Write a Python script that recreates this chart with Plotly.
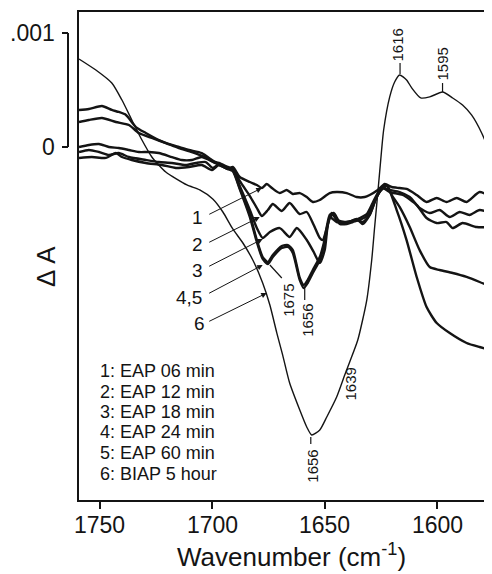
import plotly.graph_objects as go

SCALE = 1e-3  # the dA lists below are in units of 0.001 absorbance

# ---------- data ----------
wn1 = [1759.3, 1753.6, 1747.3, 1742.9, 1740.2, 1735.8, 1729.6, 1722.4, 1716.2, 1710.4, 1704.7, 1700.2, 1697.1, 1693.1, 1690.9,
       1687.8, 1683.3, 1680.2, 1678.0, 1675.8, 1673.5, 1670.0, 1666.9, 1664.2, 1661.1, 1658.0, 1655.3, 1652.2, 1647.8, 1644.7,
       1640.2, 1635.8, 1632.2, 1630.0, 1626.4, 1623.3, 1620.2, 1616.7, 1613.6, 1609.1, 1604.7, 1600.2, 1595.8, 1591.3, 1586.9,
       1581.1, 1575.8]
dA1 = [-0.096, -0.088, -0.096, -0.053, -0.088, -0.114, -0.140, -0.158, -0.184, -0.175, -0.158, -0.202, -0.158, -0.193, -0.175,
       -0.263, -0.307, -0.333, -0.360, -0.325, -0.360, -0.404, -0.377, -0.412, -0.404, -0.439, -0.482, -0.465, -0.404, -0.395,
       -0.404, -0.439, -0.439, -0.421, -0.377, -0.325, -0.351, -0.360, -0.368, -0.421, -0.482, -0.447, -0.482, -0.447, -0.482,
       -0.395, -0.439]

wn2 = [1759.3, 1754.9, 1750.4, 1746.0, 1741.6, 1737.1, 1729.6, 1723.8, 1718.0, 1711.8, 1707.3, 1702.9, 1699.8, 1696.7, 1693.1,
       1690.9, 1687.8, 1683.3, 1680.2, 1678.0, 1675.3, 1673.1, 1669.1, 1665.6, 1661.1, 1658.0, 1654.9, 1652.2, 1650.9, 1648.7,
       1646.9, 1644.7, 1640.2, 1635.8, 1633.1, 1630.0, 1626.9, 1624.2, 1621.1, 1616.7, 1612.2, 1607.8, 1603.3, 1598.9, 1594.4,
       1590.0, 1585.6, 1581.1, 1575.8]
dA2 = [-0.044, -0.026, -0.044, -0.070, -0.053, -0.088, -0.114, -0.132, -0.140, -0.158, -0.140, -0.132, -0.184, -0.149, -0.193,
       -0.184, -0.298, -0.430, -0.535, -0.605, -0.553, -0.500, -0.561, -0.491, -0.588, -0.570, -0.684, -0.798, -0.816, -0.684,
       -0.579, -0.640, -0.658, -0.640, -0.658, -0.596, -0.439, -0.360, -0.377, -0.395, -0.439, -0.535, -0.579, -0.553, -0.614,
       -0.570, -0.596, -0.553, -0.579]

wn3 = [1759.3, 1754.9, 1750.4, 1746.0, 1741.6, 1737.1, 1732.7, 1728.2, 1723.8, 1718.0, 1713.6, 1709.1, 1704.7, 1700.2, 1697.1,
       1693.1, 1690.9, 1687.8, 1683.3, 1680.2, 1677.6, 1674.4, 1670.0, 1665.6, 1662.4, 1658.0, 1654.9, 1652.2, 1650.0, 1647.8,
       1644.7, 1640.2, 1635.8, 1633.1, 1630.0, 1626.9, 1624.2, 1621.1, 1615.3, 1609.1, 1604.7, 1600.2, 1595.8, 1593.1, 1588.7,
       1582.4, 1575.8]
dA3 = [0.000, 0.018, 0.026, 0.000, -0.009, -0.026, -0.044, -0.044, -0.053, -0.088, -0.114, -0.114, -0.088, -0.123, -0.140,
       -0.175, -0.193, -0.342, -0.553, -0.711, -0.798, -0.746, -0.711, -0.789, -0.711, -0.816, -0.921, -1.018, -0.904, -0.614,
       -0.658, -0.667, -0.632, -0.675, -0.596, -0.439, -0.360, -0.395, -0.421, -0.509, -0.623, -0.667, -0.658, -0.711, -0.667,
       -0.702, -0.702]

wn4 = [1759.3, 1754.9, 1749.1, 1742.9, 1737.1, 1732.7, 1726.9, 1720.7, 1714.9, 1709.1, 1703.3, 1698.9, 1695.8, 1693.1, 1690.9,
       1687.8, 1683.3, 1680.2, 1677.6, 1675.3, 1673.1, 1669.1, 1666.4, 1664.2, 1661.1, 1659.3, 1657.6, 1655.3, 1652.2, 1650.4,
       1647.8, 1646.0, 1643.3, 1640.2, 1637.5, 1634.4, 1631.3, 1628.7, 1625.6, 1622.4, 1620.2, 1616.7, 1612.2, 1607.8, 1603.3,
       1598.9, 1593.1, 1586.9, 1581.1, 1575.8]
dA4 = [0.219, 0.237, 0.254, 0.219, 0.193, 0.123, 0.079, 0.035, -0.009, -0.044, -0.088, -0.140, -0.158, -0.184, -0.202,
       -0.360, -0.596, -0.816, -0.965, -1.009, -0.947, -0.868, -0.860, -0.904, -1.149, -1.211, -1.167, -1.079, -0.965, -0.842,
       -0.596, -0.579, -0.658, -0.658, -0.649, -0.623, -0.588, -0.491, -0.377, -0.333, -0.421, -0.526, -0.702, -0.904, -1.053,
       -1.079, -1.105, -1.140, -1.184, -1.228]

wn5 = [1759.3, 1754.9, 1749.1, 1744.7, 1741.6, 1738.4, 1734.0, 1729.6, 1723.8, 1718.0, 1714.9, 1710.4, 1704.7, 1700.2, 1697.1,
       1693.1, 1690.9, 1687.8, 1683.3, 1680.2, 1677.6, 1675.3, 1673.1, 1669.1, 1666.4, 1664.2, 1661.1, 1659.3, 1657.6, 1655.3,
       1652.2, 1650.4, 1647.8, 1646.0, 1643.3, 1640.2, 1637.5, 1634.4, 1631.3, 1628.7, 1625.6, 1622.4, 1618.0, 1613.6, 1609.1,
       1604.7, 1600.2, 1594.4, 1586.9, 1581.1, 1575.8]
dA5 = [0.325, 0.333, 0.360, 0.325, 0.307, 0.281, 0.175, 0.123, 0.061, 0.018, 0.000, -0.026, -0.053, -0.114, -0.158,
       -0.193, -0.211, -0.368, -0.614, -0.833, -0.982, -1.026, -0.965, -0.886, -0.877, -0.930, -1.167, -1.237, -1.193, -1.105,
       -0.991, -0.868, -0.623, -0.588, -0.675, -0.675, -0.658, -0.640, -0.605, -0.509, -0.395, -0.342, -0.553, -0.816, -1.140,
       -1.404, -1.544, -1.632, -1.719, -1.754, -1.781]

wn6 = [1759.3, 1751.8, 1744.7, 1740.2, 1735.8, 1731.3, 1726.9, 1720.7, 1711.3, 1705.6, 1699.8, 1695.3, 1690.9, 1686.4, 1682.0,
       1677.6, 1674.4, 1671.3, 1668.7, 1665.6, 1661.1, 1658.0, 1655.8, 1652.2, 1649.1, 1644.7, 1641.1, 1638.9, 1635.3, 1631.3,
       1629.1, 1627.8, 1626.4, 1624.7, 1623.8, 1621.1, 1618.9, 1616.7, 1613.6, 1611.3, 1607.3, 1603.3, 1597.6, 1593.1, 1588.7,
       1584.7, 1580.2, 1575.8]
dA6 = [0.772, 0.675, 0.561, 0.412, 0.237, 0.061, -0.088, -0.219, -0.333, -0.377, -0.456, -0.570, -0.719, -0.842, -0.991,
       -1.193, -1.386, -1.632, -1.825, -2.070, -2.307, -2.456, -2.526, -2.482, -2.368, -2.193, -2.000, -1.886, -1.693, -1.342,
       -0.991, -0.702, -0.404, -0.026, 0.149, 0.439, 0.570, 0.632, 0.588, 0.518, 0.430, 0.439, 0.482, 0.430, 0.368,
       0.281, 0.123, -0.088]

legend_lines = ["1: EAP 06 min", "2: EAP 12 min", "3: EAP 18 min", "4: EAP 24 min", "5: EAP 60 min", "6: BIAP 5 hour"]
curve_tags = ["1", "2", "3", "4,5", "6"]
tag_heads_wn = [1678.0, 1678.9, 1677.6, 1677.6, 1675.8]
tag_heads_dA = [-0.360, -0.614, -0.807, -1.035, -1.281]
peak_labels = ["1616", "1595", "1675", "1656", "1656", "1639"]
x_ticks = [1750, 1700, 1650, 1600]

# ---------- figure ----------
INK = "#141414"
FONT = "Liberation Sans, Arial, sans-serif"
fig = go.Figure()
series = [(wn1, dA1, 2.4), (wn2, dA2, 2.4), (wn3, dA3, 2.4), (wn4, dA4, 2.4), (wn5, dA5, 2.4), (wn6, dA6, 1.4)]
for wn, dA, w in series:
    fig.add_trace(go.Scatter(x=wn, y=[v * SCALE for v in dA], mode="lines",
                             line=dict(color=INK, width=w, shape="spline", smoothing=0.6),
                             showlegend=False, hoverinfo="skip"))

# page body adds an 8 px offset, so the figure is laid out in screen coordinates minus 8
OFF = 8
SL, ST, SR, SB = 79, 12, 492, 500      # plot area on screen
W, H = 492 - OFF, 574 - OFF
L, T = SL - OFF, ST - OFF
R = W - (SR - OFF)
B = H - (SB - OFF)
pw, ph = SR - SL, SB - ST


def px(xs):
    return (xs - SL) / pw


def py(ys):
    return (SB - ys) / ph


ann = []
shapes = []

# scale bar
shapes.append(dict(type="line", xref="paper", yref="y", x0=px(68), x1=px(68), y0=0, y1=1 * SCALE,
                   line=dict(color=INK, width=2)))
for v in (0, 1):
    shapes.append(dict(type="line", xref="paper", yref="y", x0=px(62), x1=px(68), y0=v * SCALE, y1=v * SCALE,
                       line=dict(color=INK, width=2)))
for v, t in ((1, ".001"), (0, "0")):
    ann.append(dict(xref="paper", yref="y", x=px(57), y=v * SCALE, text=t, showarrow=False,
                    xanchor="right", yanchor="middle", font=dict(size=23, color=INK, family=FONT)))

# x tick labels
for v in x_ticks:
    ann.append(dict(xref="x", yref="paper", x=v, y=py(525), text=str(v), showarrow=False,
                    xanchor="center", yanchor="middle", font=dict(size=23, color=INK, family=FONT)))

# axis titles
ann.append(dict(xref="paper", yref="paper", x=px(46), y=py(267), text="Δ A", textangle=-90, showarrow=False,
                xanchor="center", yanchor="middle", font=dict(size=26, color=INK, family=FONT)))
ann.append(dict(xref="paper", yref="paper", x=px(291), y=py(555), text="Wavenumber (cm<sup>-1</sup>)",
                showarrow=False, xanchor="center", yanchor="middle", font=dict(size=26, color=INK, family=FONT)))

# legend text block
legend_y = [371, 392, 412, 432, 453, 474]
for t, yy in zip(legend_lines, legend_y):
    ann.append(dict(xref="paper", yref="paper", x=px(98), y=py(yy), text=t, showarrow=False,
                    xanchor="left", yanchor="middle", font=dict(size=18, color=INK, family=FONT)))

# curve tags with arrows
tag_pos = [(197, 217), (197, 245), (197, 270), (189, 297), (199, 323)]
tails = [(-54, 27), (-52, 26), (-55, 28), (-55, 29), (-59, 29)]
for t, (tx, ty), hx, hy, (ax, ay) in zip(curve_tags, tag_pos, tag_heads_wn, tag_heads_dA, tails):
    ann.append(dict(xref="paper", yref="paper", x=px(tx), y=py(ty), text=t, showarrow=False,
                    xanchor="center", yanchor="middle", font=dict(size=19, color=INK, family=FONT)))
    ann.append(dict(xref="x", yref="y", x=hx, y=hy * SCALE, text="", showarrow=True, ax=ax, ay=ay,
                    arrowhead=2, arrowsize=1.1, arrowwidth=1, arrowcolor=INK, standoff=0))

# peak labels (rotated) and their leader ticks
lab_pos = [(1617.6, 0.895), (1597.6, 0.728), (1666.4, -1.342), (1658.0, -1.518), (1655.8, -2.798), (1638.6, -2.08)]
for t, (lx, ly) in zip(peak_labels, lab_pos):
    ann.append(dict(xref="x", yref="y", x=lx, y=ly * SCALE, text=t, textangle=-90, showarrow=False,
                    xanchor="center", yanchor="middle", font=dict(size=15, color=INK, family=FONT)))
leaders = [((1616.5, 0.737), (1616.5, 0.640)), ((1597.6, 0.561), (1597.6, 0.482)),
           ((1674.4, -1.035), (1669.1, -1.149)), ((1658.9, -1.228), (1658.9, -1.342)),
           ((1656.2, -2.544), (1656.2, -2.605))]
for (x0, y0), (x1, y1) in leaders:
    shapes.append(dict(type="line", xref="x", yref="y", x0=x0, x1=x1, y0=y0 * SCALE, y1=y1 * SCALE,
                       line=dict(color=INK, width=1.2)))

fig.update_layout(
    width=W, height=H, margin=dict(l=L, r=R, t=T, b=B, autoexpand=False),
    paper_bgcolor="white", plot_bgcolor="white",
    annotations=ann, shapes=shapes,
    xaxis=dict(range=[1759.3, 1575.6], tickvals=x_ticks, ticks="outside", ticklen=7, tickwidth=1.5,
               tickcolor=INK, showticklabels=False, showline=True, mirror=True, linewidth=2, linecolor=INK,
               showgrid=False, zeroline=False),
    yaxis=dict(range=[-3.096 * SCALE, 1.184 * SCALE], showticklabels=False, ticks="", showline=True,
               linewidth=2, linecolor=INK, showgrid=False, zeroline=False),
)

fig.write_html("out.html")
